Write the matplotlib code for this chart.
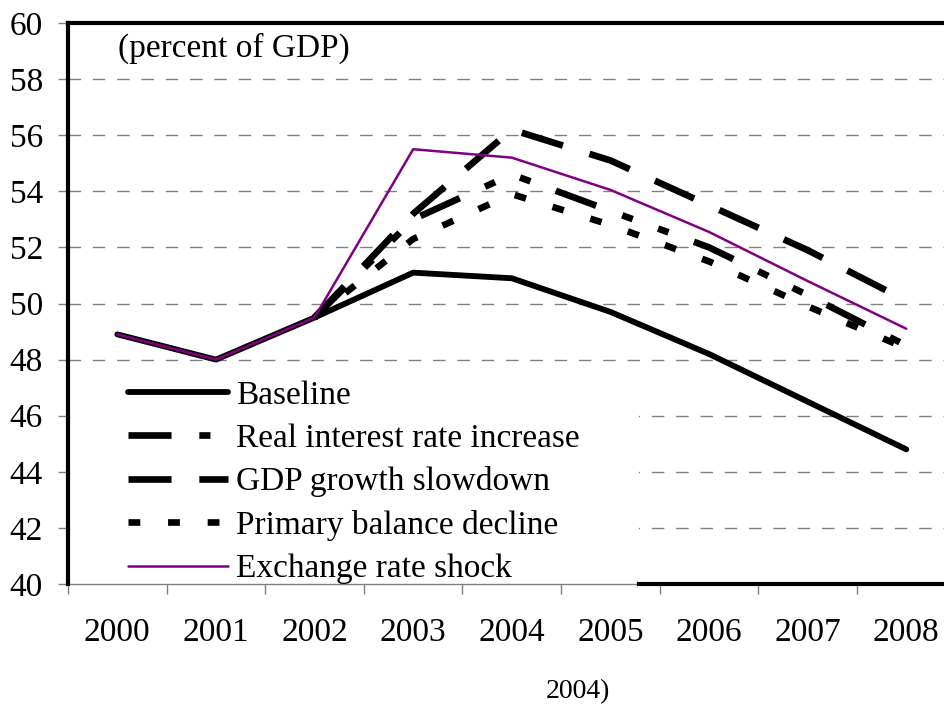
import numpy as np
import matplotlib
matplotlib.use("Agg")
import matplotlib.pyplot as plt
from matplotlib.patches import Rectangle
from matplotlib.ticker import FixedLocator

plt.rcParams["font.family"] = ["Liberation Serif", "DejaVu Serif"]
plt.rcParams["lines.scale_dashes"] = False

# Public debt paths, percent of GDP
years = ["2000", "2001", "2002", "2003", "2004", "2005", "2006", "2007", "2008"]
baseline = [48.9, 48.0, 49.5, 51.1, 50.9, 49.7, 48.2, 46.5, 44.8]
real_interest = [np.nan, np.nan, 49.5, 53.0, 54.6, 53.3, 52.0, 50.3, 48.5]
gdp_slowdown = [np.nan, np.nan, 49.5, 53.2, 56.2, 55.1, 53.5, 51.9, 50.1]
primary_balance = [np.nan, np.nan, 49.5, 52.3, 53.9, 52.8, 51.5, 49.9, 48.4]
exchange_rate = [48.9, 48.0, 49.5, 55.5, 55.2, 54.05, 52.55, 50.8, 49.1]

labels = ["Baseline", "Real interest rate increase", "GDP growth slowdown",
          "Primary balance decline", "Exchange rate shock"]
y_ticks = list(range(40, 61, 2))

W, H = 944, 707
fig = plt.figure(figsize=(W / 100, H / 100), dpi=100)
ax = fig.add_axes([68 / W, (H - 584) / H, (955.6 - 68) / W, (584 - 23) / H])

x = np.arange(len(years))
ax.plot(x, baseline, color="black", lw=4.2, solid_capstyle="round",
        solid_joinstyle="round", label=labels[0], zorder=3)
ax.plot(x, real_interest, color="black", lw=4.8,
        dashes=(31, 20, 8, 19.5, 8, 19.5), dash_capstyle="butt",
        label=labels[1], zorder=3)
ax.plot(x, gdp_slowdown, color="black", lw=4.8, dashes=(31, 20),
        dash_capstyle="butt", label=labels[2], zorder=3)
ax.plot(x, primary_balance, color="black", lw=4.8, dashes=(8.5, 20),
        dash_capstyle="butt", label=labels[3], zorder=3)
ax.plot(x, exchange_rate, color="#800080", lw=1.8, solid_capstyle="round",
        label=labels[4], zorder=4)

ax.set_xlim(-0.5, len(years) - 0.5)
ax.set_ylim(40, 60)

ax.set_xticks(x)
ax.set_xticklabels(years)
ax.xaxis.set_minor_locator(FixedLocator(np.arange(-0.5, len(years), 1.0)))
ax.tick_params(axis="x", which="major", length=0, pad=24, labelsize=24)
ax.tick_params(axis="x", which="minor", length=7.2, width=1,
               color="#808080", direction="out")
ax.set_yticks(y_ticks)
ax.tick_params(axis="y", length=7.2, width=1, color="#808080",
               direction="out", pad=10.8, labelsize=24)

ax.set_axisbelow(True)
ax.yaxis.grid(True, color="#808080", lw=1.0, dashes=(9, 8.5))

for side in ("left", "top", "right", "bottom"):
    ax.spines[side].set_color("black")
    ax.spines[side].set_linewidth(3)
ax.spines["bottom"].set_bounds(5.29, len(years) - 0.5)

# thin category axis line running under the legend panel
ax.axhline(40, color="#808080", lw=1.0, zorder=2.45, clip_on=False)

# white legend panel
ax.add_patch(Rectangle((2 / 887.6, 0), (639 - 70) / 887.6, (584 - 365) / 561,
                       transform=ax.transAxes, facecolor="white",
                       edgecolor="none", zorder=1))

ax.legend(loc="upper left", bbox_to_anchor=(128 / W, 1 - 380 / H),
          bbox_transform=fig.transFigure, frameon=False, fontsize=24,
          handlelength=3.0, handletextpad=0.24, labelspacing=0.38,
          borderpad=0, borderaxespad=0)

ax.text((118 - 68) / 887.6, 1 - 34 / 561, "(percent of GDP)",
        transform=ax.transAxes, fontsize=24, va="baseline")

fig.text(578 / W, 1 - 698 / H, "2004)", ha="center", va="baseline",
         fontsize=20)

fig.savefig("out.png", dpi=100)
